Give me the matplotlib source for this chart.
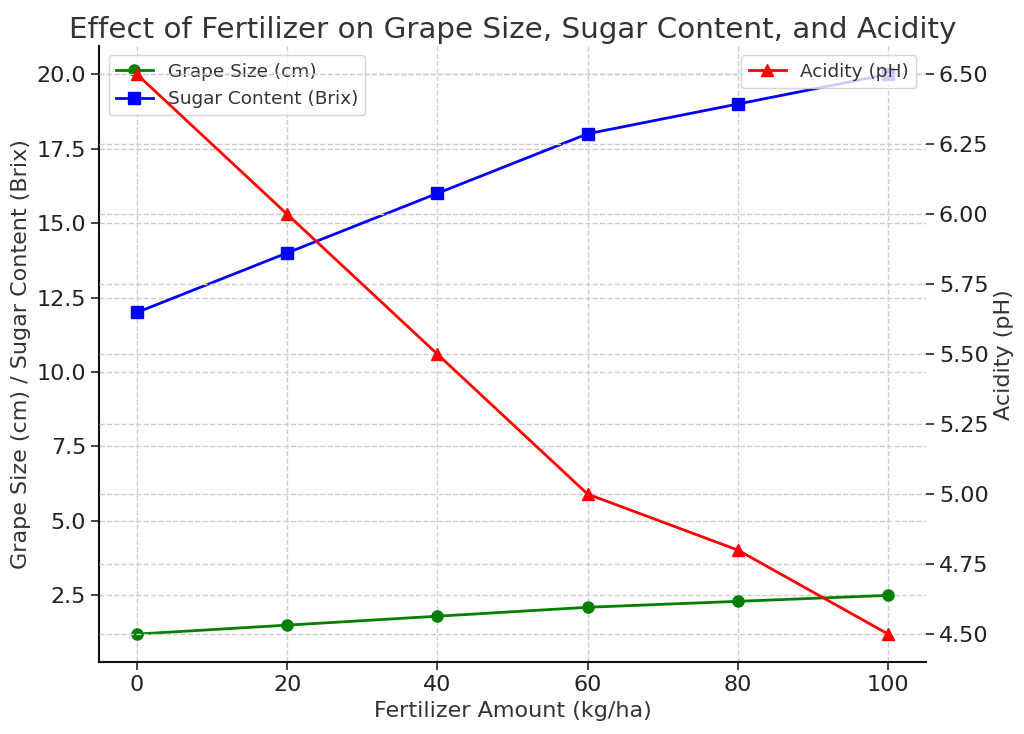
import matplotlib.pyplot as plt

fertilizer = [0, 20, 40, 60, 80, 100]
grape_size = [1.2, 1.5, 1.8, 2.1, 2.3, 2.5]
sugar_content = [12, 14, 16, 18, 19, 20]
acidity = [6.5, 6.0, 5.5, 5.0, 4.8, 4.5]

plt.rcParams['font.family'] = ['DejaVu Sans']
plt.rcParams['text.color'] = '#333333'
plt.rcParams['axes.labelcolor'] = '#333333'

fig, ax1 = plt.subplots(figsize=(10.24, 7.34), dpi=100)
ax1.plot(fertilizer, grape_size, color='green', marker='o', linewidth=2, markersize=8, label='Grape Size (cm)')
ax1.plot(fertilizer, sugar_content, color='blue', marker='s', linewidth=2, markersize=8, label='Sugar Content (Brix)')
ax1.set_xlabel('Fertilizer Amount (kg/ha)', fontsize=16)
ax1.set_ylabel('Grape Size (cm) / Sugar Content (Brix)', fontsize=16)
ax1.tick_params(labelsize=16, length=6, width=1.2, colors='#222222')
ax1.grid(True, linestyle='--', color='#cccccc', linewidth=1)
for s in ['top', 'right']:
    ax1.spines[s].set_visible(False)
for s in ['left', 'bottom']:
    ax1.spines[s].set_linewidth(1.5)
    ax1.spines[s].set_color('#111111')
ax1.legend(loc='upper left', fontsize=13.3)

ax2 = ax1.twinx()
ax2.plot(fertilizer, acidity, color='red', marker='^', linewidth=2, markersize=8, label='Acidity (pH)')
ax2.set_ylabel('Acidity (pH)', fontsize=16)
ax2.tick_params(labelsize=16, length=6, width=1.2, colors='#222222')
ax2.yaxis.set_major_formatter(plt.FormatStrFormatter('%.2f'))
ax2.grid(True, linestyle='--', color='#cccccc', linewidth=1)
for s in ['top', 'right', 'left', 'bottom']:
    ax2.spines[s].set_visible(False)
ax2.legend(loc='upper right', fontsize=13.3)

ax1.set_title('Effect of Fertilizer on Grape Size, Sugar Content, and Acidity', fontsize=21.2)
fig.subplots_adjust(left=0.097, right=0.904, top=0.937, bottom=0.098)
fig.savefig('out.png', dpi=100)
